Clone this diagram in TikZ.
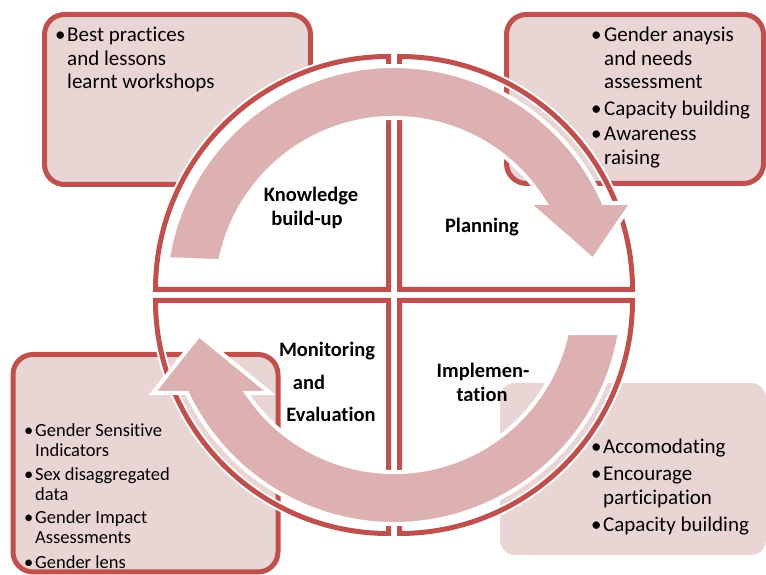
\documentclass[tikz,border=0pt]{standalone}
\usepackage{fontspec}
\setmainfont[RawFeature={-liga}]{Carlito}
\definecolor{qred}{HTML}{C0504D}
\definecolor{boxpink}{HTML}{EAD5D5}
\definecolor{arrowpink}{HTML}{DDB1B1}
\begin{document}
\begin{tikzpicture}[x=1pt,y=1pt,
  boxshape/.style={fill=boxpink, draw=qred, line width=5pt, rounded corners=20pt},
  plainbox/.style={fill=boxpink, rounded corners=15pt},
  quadfill/.style={fill=white},
  halo/.style={draw=white, line width=9pt},
  quadline/.style={draw=qred, line width=5pt},
  quadTL/.style={insert path={(388.5,285.5) -- ++(-233,0) arc[start angle=180,end angle=90,radius=233] -- cycle}},
  quadTR/.style={insert path={(399.5,285.5) -- ++(0,233) arc[start angle=90,end angle=0,radius=233] -- cycle}},
  quadBL/.style={insert path={(388.5,274.5) -- ++(0,-233) arc[start angle=270,end angle=180,radius=233] -- cycle}},
  quadBR/.style={insert path={(399.5,274.5) -- ++(233,0) arc[start angle=0,end angle=-90,radius=233] -- cycle}},
  cyclearrow/.style={fill=arrowpink, draw=white, line width=4pt, line join=miter},
  itemtext/.style={anchor=base west, inner sep=0pt, font=\fontsize{21}{23.5}\selectfont},
  smalltext/.style={anchor=base west, inner sep=0pt, font=\fontsize{18.5}{20}\selectfont},
  stagelabel/.style={anchor=base, inner sep=0pt, font=\bfseries\fontsize{20.5}{23.5}\selectfont}
]
\useasboundingbox (0,0) rectangle (766,575);

% top-left box lies behind the cycle
\path[boxshape] (44.5,390.5) rectangle (310.5,560.5);

% quadrant fills
\path[quadfill, quadTL];
\path[quadfill, quadTR];
\path[quadfill, quadBL];
\path[quadfill, quadBR];

% other boxes
\path[boxshape] (506.5,391.5) rectangle (763.5,560.5);
\path[boxshape] (13,3) rectangle (278,220.5);
\path[plainbox] (500,20) rectangle (766,192);

% quadrant outlines
\foreach \q in {quadTL,quadTR,quadBL,quadBR}{
  \path[halo, \q];
  \path[quadline, \q];
}

% circular arrows
\path[cyclearrow] (167.8,315.8) arc[start angle=171, end angle=23.7, radius=229]
  -- (632,372) -- (593,315) -- (528,372) -- (545.2,372)
  arc[start angle=31.3, end angle=169, radius=177] -- cycle;
\path[cyclearrow] (619.8,242) arc[start angle=-9.55, end angle=-154.7, radius=229]
  -- (153,182) -- (199,240) -- (270,182) -- (246.6,182)
  arc[start angle=-146.4, end angle=-12.4, radius=177] -- cycle;

% box texts
\node[itemtext] (tltext) at (55,533) {\begin{tabular}[t]{@{}l@{}l@{}}
  \makebox[12pt][l]{\textbullet} & Best practices\\ & and lessons\\ & learnt workshops\end{tabular}};
\node[itemtext] (trtext) at (591,533) {\begin{tabular}[t]{@{}l@{}l@{}}
  \makebox[13pt][l]{\textbullet} & Gender anaysis\\ & and needs\\ & assessment\\[3pt]
  \textbullet & Capacity building\\[2pt]
  \textbullet & Awareness\\ & raising\end{tabular}};
\node[smalltext] (bltext) at (24,138.3) {\begin{tabular}[t]{@{}l@{}l@{}}
  \makebox[11pt][l]{\textbullet} & Gender Sensitive\\ & Indicators\\[3.5pt]
  \textbullet & Sex disaggregated\\ & data\\[3.5pt]
  \textbullet & Gender Impact\\ & Assessments\\[5pt]
  \textbullet & Gender lens\end{tabular}};
\node[itemtext] (brtext) at (591,121) {\begin{tabular}[t]{@{}l@{}l@{}}
  \makebox[12pt][l]{\textbullet} & Accomodating\\[3.5pt]
  \textbullet & Encourage\\ & participation\\[3.5pt]
  \textbullet & Capacity building\end{tabular}};

% stage labels
\node[stagelabel] (kb1) at (311,373) {Knowledge};
\node[stagelabel] (kb2) at (307,349) {build-up};
\node[stagelabel] (pl) at (482,342) {Planning};
\node[stagelabel] (me1) at (327,218) {Monitoring};
\node[stagelabel] (me2) at (309,185) {and};
\node[stagelabel] (me3) at (331,153.3) {Evaluation};
\node[stagelabel] (im1) at (483,197) {Implemen-};
\node[stagelabel] (im2) at (482,173.3) {tation};
\end{tikzpicture}
\end{document}
